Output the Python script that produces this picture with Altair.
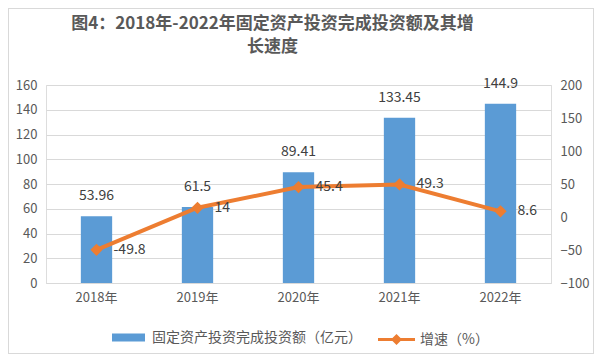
import altair as alt
import pandas as pd

years = ["2018年", "2019年", "2020年", "2021年", "2022年"]
investment = [53.96, 61.5, 89.41, 133.45, 144.9]
growth = [-49.8, 14, 45.4, 49.3, 8.6]

bar_name = "固定资产投资完成投资额（亿元）"
line_name = "增速（%）"

df = pd.DataFrame({
    "year": years,
    "inv": investment,
    "growth": growth,
    "inv_label": [f"{v:g}" for v in investment],
    "growth_label": [f"{v:g}" for v in growth],
    "bar_series": [bar_name] * len(years),
    "line_series": [line_name] * len(years),
})

FONT = "Noto Sans CJK SC"
BLUE = "#5B9BD5"
ORANGE = "#ED7D31"
GRAY = "#595959"

x = alt.X("year:N", sort=years, title=None,
          scale=alt.Scale(paddingInner=0.69, paddingOuter=0.345),
          axis=alt.Axis(labelAngle=0, ticks=False, domainColor="#D9D9D9",
                        labelColor=GRAY, labelFontSize=13, labelFont=FONT,
                        labelPadding=8))

y_left = alt.Y("inv:Q", title=None,
               scale=alt.Scale(domain=[0, 160], nice=False),
               axis=alt.Axis(values=list(range(0, 161, 20)), domain=False, ticks=False,
                             gridColor="#D9D9D9", labelColor=GRAY, labelFontSize=13,
                             labelFont=FONT, labelPadding=9, labelOverlap=False,
                             labelFlush=False))

bars = alt.Chart(df).mark_bar(color=BLUE).encode(
    x=x,
    y=y_left,
    color=alt.Color("bar_series:N", scale=alt.Scale(range=[BLUE]),
                    legend=alt.Legend(title=None, orient="none", legendX=66, legendY=236,
                                      symbolType="M-1,-0.24L1,-0.24L1,0.24L-1,0.24Z",
                                      symbolSize=1089, symbolStrokeWidth=0,
                                      labelFontSize=14, labelFont=FONT, labelColor=GRAY,
                                      labelOffset=7, padding=0, labelLimit=400)),
)

bar_text = alt.Chart(df).mark_text(dy=-13, baseline="bottom", fontSize=14,
                                   font=FONT, color="#404040").encode(
    x=x,
    y=y_left,
    text=alt.Text("inv_label:N"),
)

# light frame around the whole chart
frame = alt.Chart(df).mark_rect(fill=None, stroke="#D9D9D9", strokeWidth=1).encode(
    x=alt.value(-37.5), x2=alt.value(547.5), y=alt.value(-76.5), y2=alt.value(268.5)
)

left_layer = alt.layer(frame, bars, bar_text)

y_right = alt.Y("growth:Q", title=None,
                scale=alt.Scale(domain=[-100, 200], nice=False),
                axis=alt.Axis(orient="right", values=list(range(-100, 201, 50)),
                              grid=False, domain=False, ticks=False,
                              labelColor=GRAY, labelFontSize=13, labelFont=FONT,
                              labelPadding=9, labelOverlap=False, labelFlush=False))

line = alt.Chart(df).mark_line(
    strokeWidth=4,
    point=alt.OverlayMarkDef(shape="diamond", size=150, filled=True, color=ORANGE),
).encode(
    x=x,
    y=y_right,
    color=alt.Color("line_series:N", scale=alt.Scale(range=[ORANGE]),
                    legend=alt.Legend(title=None, orient="none", legendX=332, legendY=236,
                                      symbolType="M-1,-0.08L1,-0.08L1,0.08L-1,0.08Z M0,-0.3L0.3,0L0,0.3L-0.3,0Z",
                                      symbolSize=1369, symbolFillColor=ORANGE,
                                      symbolStrokeWidth=0,
                                      labelFontSize=14, labelFont=FONT, labelColor=GRAY,
                                      labelOffset=5, padding=0, labelLimit=400)),
)

line_text = alt.Chart(df).mark_text(dx=17, align="left", baseline="middle", fontSize=14,
                                    font=FONT, color="#404040").encode(
    x=x,
    y=y_right,
    text=alt.Text("growth_label:N"),
)

right_layer = alt.layer(line, line_text)

chart = alt.layer(left_layer, right_layer).resolve_scale(
    y="independent", color="independent"
).properties(
    width=505,
    height=198,
    autosize=alt.AutoSizeParams(type="none"),
    padding={"left": 38, "top": 77, "right": 43, "bottom": 71},
    title=alt.Title(
        text=["图4：2018年-2022年固定资产投资完成投资额及其增", "长速度"],
        font=FONT, fontSize=17, fontWeight="bold", color=GRAY,
        lineHeight=23, anchor="middle", dx=-26, offset=-48,
    ),
).configure_view(stroke=None).configure(background="white")

chart.save("out.html", embed_options={"renderer": "svg", "actions": False})
